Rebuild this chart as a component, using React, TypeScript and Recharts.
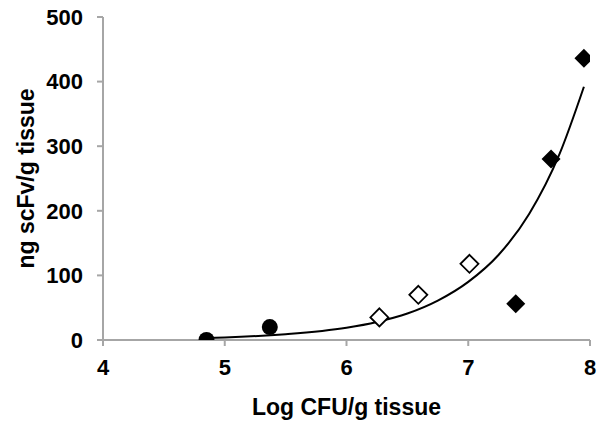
import { ScatterChart, Scatter, XAxis, YAxis, Label } from "recharts"

// Log CFU/g tissue vs ng scFv/g tissue
const circleX = [4.85, 5.37]
const circleY = [0, 20]
const openDiamondX = [6.27, 6.59, 7.01]
const openDiamondY = [35, 70, 118]
const filledDiamondX = [7.39, 7.68, 7.95]
const filledDiamondY = [56, 280, 436]

// trendline
const trendX = [4.85, 5.0, 5.5, 6.0, 6.25, 6.5, 6.75, 7.0, 7.25, 7.5, 7.75, 7.95]
const trendY = [3.2, 4, 9, 19, 28, 41, 61, 90, 132, 195, 288, 392]

const xTicks = [4, 5, 6, 7, 8]
const yTicks = [0, 100, 200, 300, 400, 500]

const toPoints = (xs: number[], ys: number[]) => xs.map((x, i) => ({ x, y: ys[i] }))

const circles = toPoints(circleX, circleY)
const openDiamonds = toPoints(openDiamondX, openDiamondY)
const filledDiamonds = toPoints(filledDiamondX, filledDiamondY)
const trend = toPoints(trendX, trendY)

const font = "'Liberation Sans', Arial, sans-serif"
const axisGray = "#a6a6a6"

const diamondPath = (cx: number, cy: number, r: number) =>
  `M${cx},${cy - r} L${cx + r},${cy} L${cx},${cy + r} L${cx - r},${cy} Z`

const CircleDot = (p: any) => <circle cx={p.cx} cy={p.cy} r={8} fill="#000" />
const OpenDiamond = (p: any) => (
  <path d={diamondPath(p.cx, p.cy, 9)} fill="#fff" stroke="#000" strokeWidth={1.8} />
)
const FilledDiamond = (p: any) => <path d={diamondPath(p.cx, p.cy, 9.5)} fill="#000" />

const tickStyle = { fontFamily: font, fontWeight: 700, fontSize: 22, fill: "#000" }

export default function App() {
  return (
    <div style={{ position: "absolute", left: 0, top: 0, background: "#fff" }}>
      <ScatterChart width={599} height={428} margin={{ top: 17, right: 9, left: 0, bottom: 0 }}>
        <XAxis
          type="number"
          dataKey="x"
          domain={[4, 8]}
          ticks={xTicks}
          height={88}
          stroke={axisGray}
          strokeWidth={2}
          tickSize={6}
          tickMargin={13}
          tick={tickStyle}
          allowDataOverflow
        >
          <Label
            content={(props: any) => {
              const vb = props.viewBox
              return (
                <text
                  x={vb.x + vb.width / 2}
                  y={vb.y + 67}
                  textAnchor="middle"
                  dominantBaseline="central"
                  style={{ fontFamily: font, fontWeight: 700, fontSize: 23 }}
                  fill="#000"
                >
                  Log CFU/g tissue
                </text>
              )
            }}
          />
        </XAxis>
        <YAxis
          type="number"
          dataKey="y"
          domain={[0, 500]}
          ticks={yTicks}
          width={103}
          stroke={axisGray}
          strokeWidth={2}
          tickSize={6}
          tickMargin={14}
          tick={tickStyle}
          allowDataOverflow
        >
          <Label
            content={(props: any) => {
              const vb = props.viewBox
              const x = vb.x + 26
              const y = vb.y + vb.height / 2
              return (
                <text
                  x={x}
                  y={y}
                  transform={`rotate(-90 ${x} ${y})`}
                  textAnchor="middle"
                  dominantBaseline="central"
                  style={{ fontFamily: font, fontWeight: 700, fontSize: 23 }}
                  fill="#000"
                >
                  ng scFv/g tissue
                </text>
              )
            }}
          />
        </YAxis>
        <Scatter
          data={trend}
          line={{ stroke: "#000", strokeWidth: 2 }}
          lineJointType="monotoneX"
          shape={() => <g />}
          isAnimationActive={false}
        />
        <Scatter data={circles} shape={CircleDot} isAnimationActive={false} />
        <Scatter data={openDiamonds} shape={OpenDiamond} isAnimationActive={false} />
        <Scatter data={filledDiamonds} shape={FilledDiamond} isAnimationActive={false} />
      </ScatterChart>
    </div>
  )
}
